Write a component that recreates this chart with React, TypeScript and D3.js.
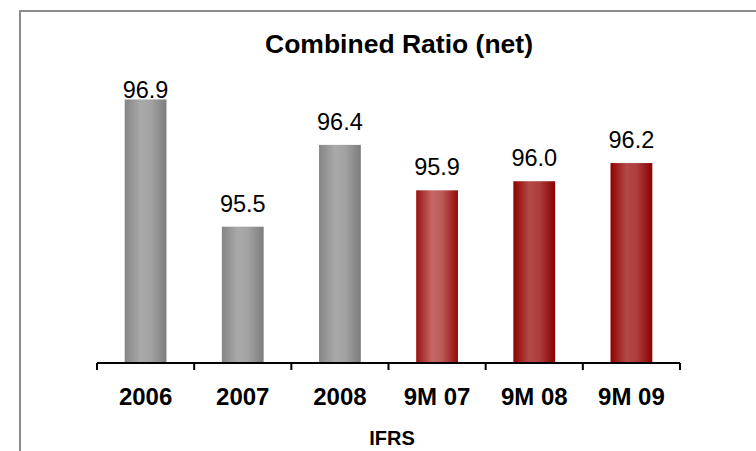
import { useMemo } from "react";
import * as d3 from "d3";

const categories = ["2006", "2007", "2008", "9M 07", "9M 08", "9M 09"];
const values = [96.9, 95.5, 96.4, 95.9, 96.0, 96.2];
const groups = ["gray", "gray", "gray", "redLight", "red", "red"];
const title = "Combined Ratio (net)";
const axisTitle = "IFRS";

const width = 756;
const height = 451;
const plot = { left: 97, right: 680, top: 54, bottom: 363 };
const font = "'Liberation Sans', Arial, sans-serif";

const gradients: Record<string, string[]> = {
  gray: ["#858585", "#a9a9a9", "#a3a3a3", "#7c7c7c"],
  redLight: ["#9a1010", "#c46a6a", "#bb5a5a", "#930a0a"],
  red: ["#900000", "#b44848", "#ae3e3e", "#8a0000"],
};

export default function App() {
  const x = useMemo(
    () =>
      d3
        .scaleBand()
        .domain(categories)
        .range([plot.left, plot.right])
        .paddingInner(0.57)
        .paddingOuter(0.285),
    []
  );

  const y = useMemo(
    () => d3.scaleLinear().domain([94, 97.4]).range([plot.bottom, plot.top]),
    []
  );

  const step = (plot.right - plot.left) / categories.length;
  const ticks = d3.range(categories.length + 1).map((i) => plot.left + i * step);

  return (
    <div style={{ position: "fixed", left: 0, top: 0 }}>
      <svg width={width} height={height} style={{ display: "block", background: "#fff" }}>
        <defs>
          {Object.entries(gradients).map(([id, c]) => (
            <linearGradient key={id} id={`g-${id}`} x1="0" x2="1" y1="0" y2="0">
              <stop offset="0" stopColor={c[0]} />
              <stop offset="0.38" stopColor={c[1]} />
              <stop offset="0.62" stopColor={c[2]} />
              <stop offset="1" stopColor={c[3]} />
            </linearGradient>
          ))}
        </defs>

        <rect x={20} y={11} width={800} height={500} fill="none" stroke="#8c8c8c" strokeWidth={2} />

        <text
          x={399}
          y={53}
          textAnchor="middle"
          fontFamily={font}
          fontWeight="bold"
          fontSize={26.5}
          fill="#000"
        >
          {title}
        </text>

        {categories.map((c, i) => (
          <rect
            key={c}
            x={x(c)}
            y={y(values[i])}
            width={x.bandwidth()}
            height={plot.bottom - y(values[i])}
            fill={`url(#g-${groups[i]})`}
          />
        ))}

        {categories.map((c, i) => (
          <text
            key={c}
            x={(x(c) ?? 0) + x.bandwidth() / 2}
            y={Math.max(y(values[i]) - 15, 98)}
            textAnchor="middle"
            fontFamily={font}
            fontSize={23.5}
            fill="#000"
          >
            {values[i].toFixed(1)}
          </text>
        ))}

        <line x1={plot.left} x2={plot.right} y1={plot.bottom} y2={plot.bottom} stroke="#000" strokeWidth={2} />
        {ticks.map((t, i) => (
          <line key={i} x1={t} x2={t} y1={plot.bottom} y2={plot.bottom + 7} stroke="#000" strokeWidth={2} />
        ))}

        {categories.map((c) => (
          <text
            key={c}
            x={(x(c) ?? 0) + x.bandwidth() / 2}
            y={405}
            textAnchor="middle"
            fontFamily={font}
            fontWeight="bold"
            fontSize={24}
            fill="#000"
          >
            {c}
          </text>
        ))}

        <text
          x={392}
          y={445}
          textAnchor="middle"
          fontFamily={font}
          fontWeight="bold"
          fontSize={20}
          fill="#000"
        >
          {axisTitle}
        </text>
      </svg>
    </div>
  );
}
